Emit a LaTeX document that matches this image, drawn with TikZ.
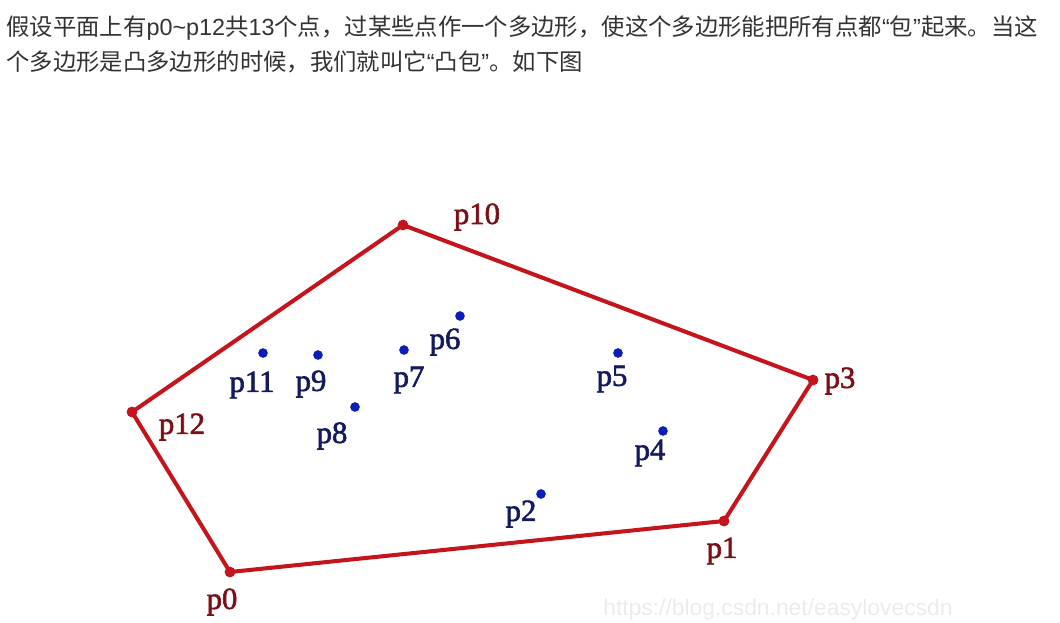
\documentclass[tikz,border=0pt]{standalone}
\usepackage{fontspec}
\setmainfont{Liberation Serif}
\newfontfamily\cjk{Noto Sans CJK SC}
\newfontfamily\wmfont{Liberation Sans}
\newfontfamily\lblfont[FakeBold=2]{Liberation Serif}
\usepackage{xcolor}
\usetikzlibrary{positioning}
\definecolor{hullred}{HTML}{C4141C}
\definecolor{lblred}{HTML}{7A1018}
\definecolor{ptblue}{HTML}{0B1FB8}
\definecolor{lblblue}{HTML}{141A5C}
\definecolor{txtgray}{HTML}{333333}
\newcommand{\lat}[1]{{\wmfont #1}}

\begin{document}
\begin{tikzpicture}[x=0.02cm, y=-0.02cm,
    hull/.style={draw=hullred, line width=2.3pt, line join=round},
    vtx/.style={circle, fill=hullred, inner sep=0pt, minimum size=6pt},
    pt/.style={circle, fill=ptblue, inner sep=0pt, minimum size=5.5pt},
    hlabel/.style={font=\lblfont\fontsize{17.5}{17.5}\selectfont, text=lblred, inner sep=0pt},
    plabel/.style={font=\lblfont\fontsize{17.5}{17.5}\selectfont, text=lblblue, inner sep=0pt},
    para/.style={font=\cjk\fontsize{13.3}{15}\selectfont, text=txtgray, anchor=base west, inner sep=0pt}
]
    \useasboundingbox (0,0) rectangle (1060,622);
    \clip (0,0) rectangle (1060,622);

    % intro text
    \node[para] (line1) at (6,35) {假设平面上有\lat{p0\textasciitilde p12}共\lat{13}个点，过某些点作一个多边形，使这个多边形能把所有点都\lat{“}包\lat{”}起来。当这};
    \node[para] (line2) at (6,70) {个多边形是凸多边形的时候，我们就叫它\lat{“}凸包\lat{”}。如下图};

    % hull vertices
    \node[vtx] (p0) at (230,572) {};
    \node[vtx] (p1) at (724,521) {};
    \node[vtx] (p3) at (813,380) {};
    \node[vtx] (p10) at (403,225) {};
    \node[vtx] (p12) at (132,412) {};

    \draw[hull] (p0.center) -- (p1.center) -- (p3.center) -- (p10.center) -- (p12.center) -- cycle;
    \foreach \v in {p0,p1,p3,p10,p12}
        \node[vtx] at (\v) {};

    % inner points
    \foreach \n/\x/\y in {p2/541/494, p4/663/431, p5/618/353, p6/460/316,
                          p7/404/350, p8/355/407, p9/318/355, p11/263/353}
        \node[pt] (\n) at (\x,\y) {};

    % labels
    \node[hlabel] (l0) at (222,602) {p0};
    \node[hlabel] (l1) at (722,551) {p1};
    \node[hlabel] (l3) at (840,381) {p3};
    \node[hlabel] (l10) at (477,217) {p10};
    \node[hlabel] (l12) at (182,427) {p12};

    \foreach \n/\x/\y in {p2/521/514, p4/650/453, p5/612/379, p6/445/342,
                          p7/409/380, p8/332/436, p9/311/384, p11/252/385}
        \node[plabel] (l\n) at (\x,\y) {\n};

    % watermark
    \node[font=\wmfont\fontsize{13}{13}\selectfont, text=black!8, anchor=base west, inner sep=0pt]
        (wm) at (603,615) {https://blog.csdn.net/easylovecsdn};
\end{tikzpicture}
\end{document}
